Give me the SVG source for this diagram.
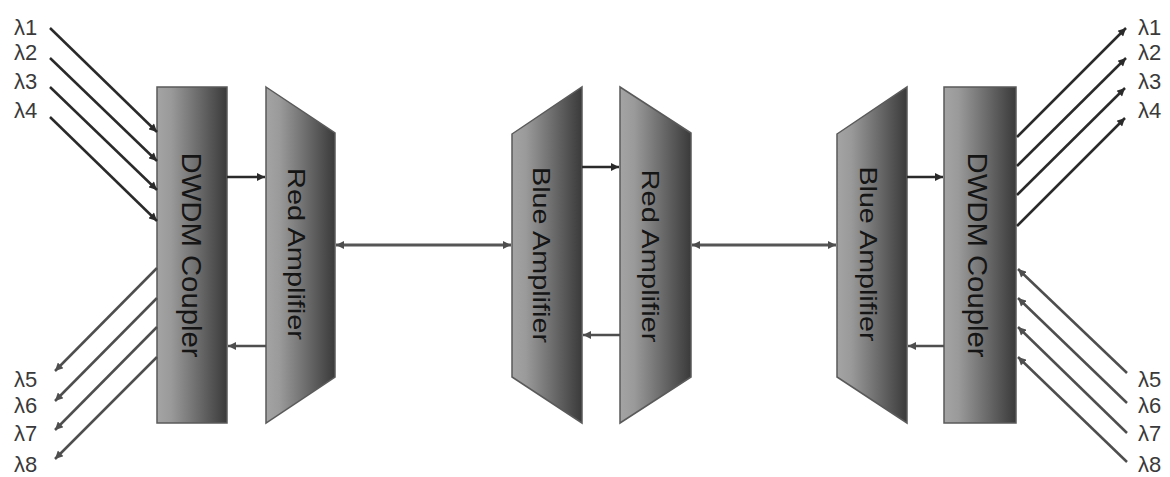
<svg xmlns="http://www.w3.org/2000/svg" width="1170" height="477" viewBox="0 0 1170 477">
<defs>
<linearGradient id="g" x1="0" y1="0" x2="1" y2="0">
<stop offset="0" stop-color="#a4a4a4"/>
<stop offset="0.2" stop-color="#9a9a9a"/>
<stop offset="1" stop-color="#3a3a3a"/>
</linearGradient>
<marker id="ad" viewBox="0 0 10 10" refX="10" refY="5" markerUnits="userSpaceOnUse" markerWidth="9" markerHeight="8" orient="auto-start-reverse">
<path d="M0,0 L10,5 L0,10 z" fill="#2a2a2a"/>
</marker>
<marker id="ag" viewBox="0 0 10 10" refX="10" refY="5" markerUnits="userSpaceOnUse" markerWidth="9" markerHeight="8" orient="auto-start-reverse">
<path d="M0,0 L10,5 L0,10 z" fill="#4e4e4e"/>
</marker>
</defs>
<style>
.box{fill:url(#g);stroke:#5a5a5a;stroke-width:1.5}
.t{font-family:"Liberation Sans",Arial,sans-serif;fill:#151515;text-anchor:middle}
.lab{font-family:"Liberation Sans",Arial,sans-serif;font-size:22px;fill:#3a3a3a}
.dk{stroke:#2a2a2a;stroke-width:2.5;fill:none;marker-end:url(#ad)}
.gr{stroke:#4e4e4e;stroke-width:2.5;fill:none;marker-end:url(#ag)}
.hz{stroke:#555;stroke-width:3;fill:none;marker-start:url(#ag);marker-end:url(#ag)}
</style>
<g id="dwdm-left">
<rect class="box" x="157" y="87" width="70" height="336"/>
<text class="t" font-size="27" transform="translate(182,255) rotate(90)" textLength="205" lengthAdjust="spacingAndGlyphs">DWDM Coupler</text>
</g>
<g id="red-amp-left">
<polygon class="box" points="266,87 335,133 335,377 266,423"/>
<text class="t" font-size="24" transform="translate(288,254) rotate(90)" textLength="172" lengthAdjust="spacingAndGlyphs">Red Amplifier</text>
</g>
<g id="blue-amp-mid">
<polygon class="box" points="512,134 582,87 582,423 512,377"/>
<text class="t" font-size="24" transform="translate(533,255) rotate(90)" textLength="176" lengthAdjust="spacingAndGlyphs">Blue Amplifier</text>
</g>
<g id="red-amp-mid">
<polygon class="box" points="620,87 691,133 691,377 620,423"/>
<text class="t" font-size="24" transform="translate(642,256) rotate(90)" textLength="173" lengthAdjust="spacingAndGlyphs">Red Amplifier</text>
</g>
<g id="blue-amp-right">
<polygon class="box" points="837,134 907,87 907,423 837,377"/>
<text class="t" font-size="24" transform="translate(860,254) rotate(90)" textLength="175" lengthAdjust="spacingAndGlyphs">Blue Amplifier</text>
</g>
<g id="dwdm-right">
<rect class="box" x="944" y="87" width="72" height="336"/>
<text class="t" font-size="27" transform="translate(968,255) rotate(90)" textLength="205" lengthAdjust="spacingAndGlyphs">DWDM Coupler</text>
</g>
<g id="connectors">
<line class="dk" x1="50" y1="28" x2="157" y2="132"/>
<line class="dk" x1="50" y1="58" x2="157" y2="161"/>
<line class="dk" x1="50" y1="87" x2="157" y2="190"/>
<line class="dk" x1="50" y1="117" x2="157" y2="221"/>
<line class="gr" x1="157" y1="268" x2="55" y2="371"/>
<line class="gr" x1="157" y1="298" x2="55" y2="401"/>
<line class="gr" x1="157" y1="327" x2="55" y2="430"/>
<line class="gr" x1="157" y1="357" x2="55" y2="459"/>
<line class="dk" x1="1017" y1="137" x2="1126" y2="28"/>
<line class="dk" x1="1017" y1="166" x2="1126" y2="58"/>
<line class="dk" x1="1017" y1="195" x2="1125" y2="88"/>
<line class="dk" x1="1017" y1="226" x2="1125" y2="118"/>
<line class="gr" x1="1127" y1="373" x2="1018" y2="269"/>
<line class="gr" x1="1127" y1="403" x2="1018" y2="298"/>
<line class="gr" x1="1127" y1="433" x2="1018" y2="327"/>
<line class="gr" x1="1127" y1="462" x2="1018" y2="357"/>
<line class="dk" x1="227" y1="177" x2="265" y2="177"/>
<line class="gr" x1="266" y1="346" x2="228" y2="346"/>
<line class="hz" x1="336" y1="245" x2="511" y2="245"/>
<line class="dk" x1="582" y1="167" x2="619" y2="167"/>
<line class="gr" x1="620" y1="335" x2="583" y2="335"/>
<line class="hz" x1="692" y1="245" x2="836" y2="245"/>
<line class="dk" x1="907" y1="177" x2="943" y2="177"/>
<line class="gr" x1="944" y1="346" x2="908" y2="346"/>
</g>
<g id="labels">
<text class="lab" x="14" y="35">λ1</text>
<text class="lab" x="14" y="60">λ2</text>
<text class="lab" x="14" y="89">λ3</text>
<text class="lab" x="14" y="118">λ4</text>
<text class="lab" x="14" y="387">λ5</text>
<text class="lab" x="14" y="413">λ6</text>
<text class="lab" x="14" y="441">λ7</text>
<text class="lab" x="14" y="472">λ8</text>
<text class="lab" x="1138" y="35">λ1</text>
<text class="lab" x="1138" y="60">λ2</text>
<text class="lab" x="1138" y="89">λ3</text>
<text class="lab" x="1138" y="118">λ4</text>
<text class="lab" x="1138" y="387">λ5</text>
<text class="lab" x="1138" y="413">λ6</text>
<text class="lab" x="1138" y="441">λ7</text>
<text class="lab" x="1138" y="472">λ8</text>
</g>
</svg>
